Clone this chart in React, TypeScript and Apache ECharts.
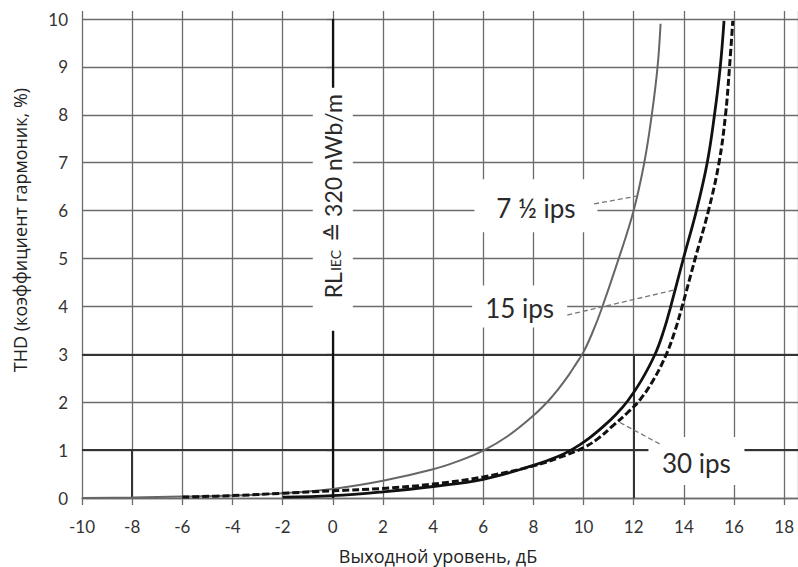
import React, { useEffect, useRef } from "react";
import * as echarts from "echarts";

// Tick labels
const xTickLabels = [-10, -8, -6, -4, -2, 0, 2, 4, 6, 8, 10, 12, 14, 16, 18];
const yTickLabels = [0, 1, 2, 3, 4, 5, 6, 7, 8, 9, 10];

// 7 1/2 ips (grey curve)
const ips75X = [-10, -8, -6, -4, -2, 0, 2, 4, 5, 6, 7, 8, 8.6, 9.0, 9.4, 9.7, 10.0, 10.35, 10.7, 11.37, 11.98, 12.42, 12.72, 12.95, 13.07];
const ips75Y = [0, 0.01, 0.03, 0.05, 0.1, 0.19, 0.36, 0.6, 0.77, 0.99, 1.3, 1.72, 2.03, 2.28, 2.56, 2.8, 3.05, 3.45, 3.92, 4.95, 5.97, 7.0, 8.0, 9.0, 9.9];

// 15 ips (solid black curve)
const ips15X = [-2, 0, 2, 4, 6, 8, 9, 9.6, 10.2, 10.8, 11.3, 11.75, 12.3, 12.85, 13.2, 13.45, 13.98, 14.5, 14.93, 15.22, 15.45, 15.6];
const ips15Y = [0.02, 0.05, 0.13, 0.24, 0.39, 0.68, 0.87, 1.03, 1.24, 1.5, 1.75, 2.02, 2.45, 3.0, 3.5, 3.95, 5.0, 6.0, 7.0, 8.0, 9.0, 9.96];

// 30 ips (dashed black curve)
const ips30X = [-6, -4, -2, 0, 2, 4, 6, 8, 9, 10, 10.6, 11.15, 11.75, 12.25, 12.8, 13.3, 13.65, 13.92, 14.45, 14.98, 15.4, 15.66, 15.82, 15.95];
const ips30Y = [0.02, 0.05, 0.1, 0.15, 0.2, 0.29, 0.44, 0.67, 0.84, 1.05, 1.25, 1.5, 1.78, 2.05, 2.48, 3.0, 3.5, 3.98, 5.0, 6.0, 7.0, 8.0, 9.0, 9.96];

// Reference lines
const boldLevels = [1, 3];
const rlLevel = 0;

// Annotations (data coordinates)
const annotations = [
  { text: "7 ½ ips", center: [8.1, 6.1], box: [123, 53], from: [10.42, 6.14], to: [12.1, 6.3] },
  { text: "15 ips", center: [7.45, 4.0], box: [95, 42], from: [9.35, 3.82], to: [13.6, 4.34] },
  { text: "30 ips", center: [14.5, 0.77], box: [96, 48], from: [13.03, 1.13], to: [11.4, 1.59] },
];
const rlText = { center: [0, 6.3], boxCenter: [0, 6.04] };

const zip = (xs: number[], ys: number[]) => xs.map((x, i) => [x, ys[i]]);

const GRID_COLOR = "#6c6c6c";
const TICK_FONT = "Lato, 'DejaVu Sans', sans-serif";
const TITLE_FONT = "'Open Sans', 'Noto Sans', sans-serif";

export default function App() {
  const ref = useRef<HTMLDivElement>(null);

  useEffect(() => {
    const chart = echarts.init(ref.current!, null, { renderer: "svg" });
    const axisLineStyle = { color: GRID_COLOR, width: 1.3 };
    const option: any = {
      animation: false,
      backgroundColor: "#fff",
      grid: { left: 82, right: -5, top: 19, bottom: 69 },
      xAxis: [
        {
          type: "value",
          min: -10,
          max: 18.55,
          interval: 2,
          axisLine: { show: true, lineStyle: axisLineStyle },
          axisTick: { show: true, length: 7, lineStyle: axisLineStyle },
          splitLine: { show: true, lineStyle: axisLineStyle },
          axisLabel: {
            margin: 20,
            fontSize: 17,
            fontFamily: TICK_FONT,
            color: "#333",
            showMaxLabel: false,
            formatter: (v: number) => (xTickLabels.includes(v) ? String(v) : ""),
          },
        },
        {
          type: "value",
          position: "top",
          min: -10,
          max: 18.55,
          interval: 2,
          axisLine: { show: false },
          axisTick: { show: true, length: 8, lineStyle: axisLineStyle },
          splitLine: { show: false },
          axisLabel: { show: false },
        },
      ],
      yAxis: {
        type: "value",
        min: 0,
        max: 10,
        interval: 1,
        axisLine: { show: true, lineStyle: axisLineStyle },
        axisTick: { show: true, length: 6, lineStyle: axisLineStyle },
        splitLine: { show: true, lineStyle: axisLineStyle },
        axisLabel: {
          margin: 14,
          fontSize: 17,
          fontFamily: TICK_FONT,
          color: "#333",
          formatter: (v: number) => (yTickLabels.includes(v) ? String(v) : ""),
        },
      },
      series: [
        {
          name: "7 1/2 ips",
          type: "line",
          data: zip(ips75X, ips75Y),
          showSymbol: false,
          smooth: 0.4,
          lineStyle: { color: "#666", width: 2 },
          markLine: {
            silent: true,
            symbol: "none",
            z: 1,
            label: { show: false },
            data: [
              ...boldLevels.map((l) => ({ yAxis: l, lineStyle: { color: "#333", width: 2.2, type: "solid" } })),
              { xAxis: rlLevel, lineStyle: { color: "#111", width: 2.2, type: "solid" } },
              [
                { coord: [-8, 0], lineStyle: { color: "#333", width: 2, type: "solid" } },
                { coord: [-8, 1] },
              ],
              [
                { coord: [12, 0], lineStyle: { color: "#333", width: 2, type: "solid" } },
                { coord: [12, 3] },
              ],
            ],
          },
        },
        {
          name: "15 ips",
          type: "line",
          data: zip(ips15X, ips15Y),
          showSymbol: false,
          smooth: 0.4,
          lineStyle: { color: "#111", width: 2.8 },
        },
        {
          name: "30 ips",
          type: "line",
          data: zip(ips30X, ips30Y),
          showSymbol: false,
          smooth: 0.4,
          lineStyle: { color: "#111", width: 3, type: [7, 3] },
        },
      ],
    };
    chart.setOption(option);

    const px = (p: number[]) => chart.convertToPixel({ seriesIndex: 1 }, p) as number[];
    const graphic: any[] = [];

    annotations.forEach((a) => {
      const c = px(a.center);
      const f = px(a.from);
      const t = px(a.to);
      graphic.push({
        type: "rect",
        z: 50,
        shape: { x: c[0] - a.box[0] / 2, y: c[1] - a.box[1] / 2, width: a.box[0], height: a.box[1] },
        style: { fill: "#fff" },
      });
      graphic.push({
        type: "line",
        z: 51,
        shape: { x1: f[0], y1: f[1], x2: t[0], y2: t[1] },
        style: { stroke: "#777", lineWidth: 1.3, lineDash: [5, 3] },
      });
      graphic.push({
        type: "text",
        z: 52,
        x: c[0],
        y: c[1] + 2,
        style: {
          text: a.text,
          fontSize: 26,
          fontFamily: TICK_FONT,
          fill: "#2a2a2a",
          align: "center",
          verticalAlign: "middle",
        },
      });
    });

    const rb = px(rlText.boxCenter);
    const rc = px(rlText.center);
    graphic.push({
      type: "rect",
      z: 50,
      shape: { x: rb[0] - 20, y: rb[1] - 121, width: 40, height: 243 },
      style: { fill: "#fff" },
    });
    graphic.push({
      type: "text",
      z: 52,
      x: rc[0],
      y: rc[1],
      rotation: Math.PI / 2,
      style: {
        text: "{n|RL}{s|IEC}{n| ≙ 320 nWb/m}",
        fontSize: 23,
        fontFamily: TICK_FONT,
        fill: "#2a2a2a",
        align: "center",
        verticalAlign: "middle",
        rich: {
          n: { fontSize: 23, fontFamily: TICK_FONT, fill: "#2a2a2a", verticalAlign: "bottom" },
          s: { fontSize: 14, fontFamily: TICK_FONT, fill: "#2a2a2a", verticalAlign: "bottom", padding: [0, 2, 2, 1] },
        },
      },
    });

    graphic.push({
      type: "text",
      z: 52,
      x: 20,
      y: 230,
      rotation: Math.PI / 2,
      style: {
        text: "THD (коэффициент гармоник, %)",
        fontSize: 18,
        fontFamily: TITLE_FONT,
        fill: "#222",
        align: "center",
        verticalAlign: "middle",
      },
    });
    graphic.push({
      type: "text",
      z: 52,
      x: 438,
      y: 556,
      style: {
        text: "Выходной уровень, дБ",
        fontSize: 18,
        fontFamily: TITLE_FONT,
        fill: "#222",
        align: "center",
        verticalAlign: "middle",
      },
    });

    chart.setOption({ graphic });
    return () => chart.dispose();
  }, []);

  return (
    <div
      ref={ref}
      style={{ position: "absolute", left: 0, top: 0, width: 798, height: 567, background: "#fff" }}
    />
  );
}
